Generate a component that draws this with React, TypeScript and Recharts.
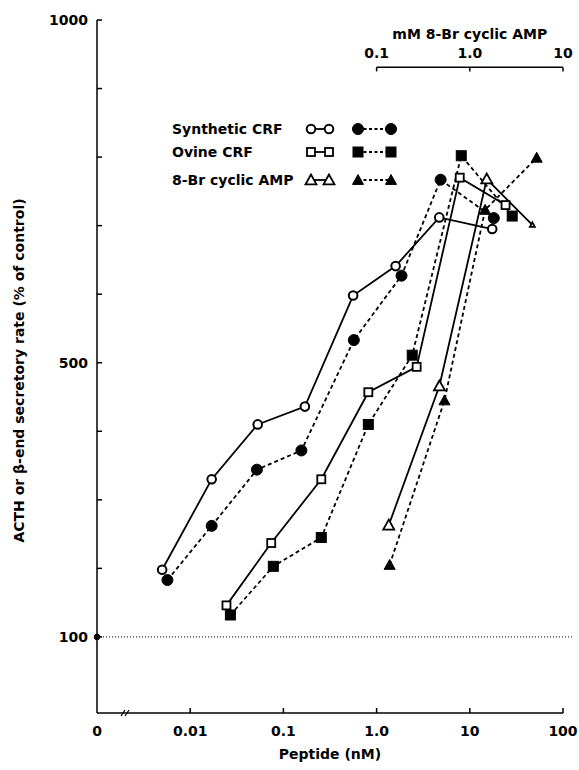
import React from 'react';
import { ComposedChart, Line, XAxis, YAxis, ReferenceLine, ReferenceDot, Legend } from 'recharts';

const FONT = 'DejaVu Sans';

// peptide concentration (nM) vs secretory rate (% of control)
const synthOpenX = [0.005, 0.017, 0.053, 0.17, 0.56, 1.6, 4.7, 17.4];
const synthOpenY = [198, 330, 410, 436, 598, 641, 712, 695];
const synthFilledX = [0.0057, 0.017, 0.052, 0.156, 0.57, 1.85, 4.86, 18.1];
const synthFilledY = [183, 262, 344, 372, 533, 627, 767, 711];

const ovineOpenX = [0.0245, 0.074, 0.255, 0.815, 2.69, 7.8, 24.2];
const ovineOpenY = [146, 237, 330, 457, 494, 770, 730];
const ovineFilledX = [0.027, 0.078, 0.255, 0.815, 2.41, 8.1, 28.5];
const ovineFilledY = [132, 203, 245, 410, 511, 802, 714];

// 8-Br cyclic AMP, in mM (top axis)
const campOpenX = [0.135, 0.472, 1.52, 4.69];
const campOpenY = [263, 466, 768, 701];
const campFilledX = [0.138, 0.535, 1.46, 5.22];
const campFilledY = [205, 445, 723, 799];

const xTicks = [0.001, 0.0021, 0.01, 0.1, 1, 10, 100];
const xTickLabels: Record<string, string> = { '0.001': '0', '0.01': '0.01', '0.1': '0.1', '1': '1.0', '10': '10', '100': '100' };
const BREAK = 0.0021;
const yTicks = [100, 200, 300, 400, 500, 600, 700, 800, 900, 1000];
const yTickLabels = [100, 500, 1000];
const topTicks = [0.1, 1, 10];
const topTickLabels = ['0.1', '1.0', '10'];
const TOP_AXIS_Y = 931;

const legendNames = ['Synthetic CRF', 'Ovine CRF', '8-Br cyclic AMP'];
const legendShapes = ['circle', 'square', 'triangle'];

const pts = (xs: number[], ys: number[]) => xs.map((x, i) => ({ x, y: ys[i] }));

function Marker({ shape, filled, cx, cy, scale = 1 }: any) {
  const fill = filled ? '#000' : '#fff';
  if (shape === 'circle') {
    return <circle cx={cx} cy={cy} r={(filled ? 5.5 : 4.3) * scale} fill={fill} stroke="#000" strokeWidth={filled ? 1 : 2} />;
  }
  if (shape === 'square') {
    const h = (filled ? 5 : 4) * scale;
    return <rect x={cx - h} y={cy - h} width={2 * h} height={2 * h} fill={fill} stroke="#000" strokeWidth={filled ? 1 : 1.8} />;
  }
  const h = 5.5 * scale;
  return (
    <polygon
      points={`${cx},${cy - h} ${cx - h},${cy + h * 0.8} ${cx + h},${cy + h * 0.8}`}
      fill={fill}
      stroke="#000"
      strokeWidth={filled ? 1 : 1.8}
      strokeLinejoin="miter"
    />
  );
}

const dotFor = (shape: string, filled: boolean, scales?: number[]) => (p: any) => {
  if (p.cx == null || p.cy == null) return <g key={`e-${p.index}`} />;
  return (
    <g key={`d-${shape}-${filled}-${p.index}`}>
      <Marker shape={shape} filled={filled} cx={p.cx} cy={p.cy} scale={scales ? scales[p.index] : 1} />
    </g>
  );
};

const XTick = (props: any) => {
  const { x, y, payload } = props;
  const v = payload.value;
  if (v === BREAK) {
    return (
      <g stroke="#000" strokeWidth={1.3}>
        <line x1={x - 6} y1={y + 3} x2={x - 2} y2={y - 3} />
        <line x1={x - 2} y1={y + 3} x2={x + 2} y2={y - 3} />
      </g>
    );
  }
  const label = xTickLabels[String(v)];
  return (
    <g>
      {v !== 0.001 && <line x1={x} y1={y} x2={x} y2={y - 5} stroke="#000" strokeWidth={1.5} />}
      <text x={x} y={y + 23} textAnchor="middle" fontFamily={FONT} fontWeight="bold" fontSize={14} fill="#000">
        {label}
      </text>
    </g>
  );
};

const YTick = (props: any) => {
  const { x, y, payload } = props;
  const v = payload.value;
  return (
    <g>
      <line x1={x} y1={y} x2={x + 5} y2={y} stroke="#000" strokeWidth={1.5} />
      {yTickLabels.includes(v) && (
        <text x={x - 9} y={y + 5} textAnchor="end" fontFamily={FONT} fontWeight="bold" fontSize={14} fill="#000">
          {v}
        </text>
      )}
    </g>
  );
};

const YLabel = (props: any) => {
  const vb = props.viewBox;
  const cx = vb.x + 19;
  const cy = vb.y + vb.height / 2 + 4;
  return (
    <text x={cx} y={cy} transform={`rotate(-90 ${cx} ${cy})`} textAnchor="middle" dominantBaseline="central" fontFamily={FONT} fontWeight="bold" fontSize={14} fill="#000">
      ACTH or β-end  secretory rate (% of control)
    </text>
  );
};

const XLabel = (props: any) => {
  const vb = props.viewBox;
  return (
    <text x={vb.x + vb.width / 2} y={vb.y + 46} textAnchor="middle" fontFamily={FONT} fontWeight="bold" fontSize={14} fill="#000">
      Peptide (nM)
    </text>
  );
};

const LegendBox = () => {
  const rowY = [17, 40, 68];
  return (
    <svg width={250} height={80} style={{ display: 'block', overflow: 'visible' }}>
      {legendNames.map((name, i) => {
        const cy = rowY[i];
        const s = legendShapes[i];
        return (
          <g key={name}>
            <text x={7} y={cy + 5} fontFamily={FONT} fontWeight="bold" fontSize={14} fill="#000">
              {name}
            </text>
            <line x1={146} y1={cy} x2={164} y2={cy} stroke="#000" strokeWidth={1.8} />
            <Marker shape={s} filled={false} cx={146} cy={cy} />
            <Marker shape={s} filled={false} cx={164} cy={cy} />
            <line x1={193} y1={cy} x2={226} y2={cy} stroke="#000" strokeWidth={1.8} strokeDasharray="3 2.5" />
            <Marker shape={s} filled cx={193} cy={cy} />
            <Marker shape={s} filled cx={226} cy={cy} />
          </g>
        );
      })}
    </svg>
  );
};

const lineProps = { dataKey: 'y', stroke: '#000', strokeWidth: 1.8, activeDot: false, isAnimationActive: false, type: 'linear' as const };
const DASH = '4 3';

export default function App() {
  return (
    <div style={{ position: 'absolute', left: 0, top: 0, background: '#fff' }}>
      <ComposedChart width={579} height={770} margin={{ top: 20, right: 16, left: 0, bottom: 0 }} style={{ fontFamily: FONT }}>
        <XAxis
          xAxisId="nM"
          type="number"
          dataKey="x"
          scale="log"
          domain={[0.001, 100]}
          allowDataOverflow
          ticks={xTicks}
          interval={0}
          tick={<XTick />}
          tickLine={false}
          tickSize={0}
          tickMargin={0}
          axisLine={{ stroke: '#000', strokeWidth: 1.5 }}
          height={57}
          label={{ content: <XLabel /> }}
        />
        <XAxis
          xAxisId="mM"
          orientation="top"
          height={0}
          type="number"
          dataKey="x"
          scale="log"
          domain={[0.0001, 10]}
          allowDataOverflow
          hide
        />
        <YAxis
          type="number"
          domain={[-11, 1000]}
          allowDataOverflow
          ticks={yTicks}
          interval={0}
          tick={<YTick />}
          tickLine={false}
          tickSize={0}
          tickMargin={0}
          axisLine={{ stroke: '#000', strokeWidth: 1.5 }}
          width={97}
          label={{ content: <YLabel /> }}
        />

        <ReferenceLine
          xAxisId="nM"
          segment={[{ x: 0.001, y: 100 }, { x: 130, y: 100 }]}
          ifOverflow="visible"
          stroke="#000"
          strokeWidth={1}
          strokeDasharray="1 2"
        />
        <ReferenceDot xAxisId="nM" x={0.001} y={100} r={2.8} fill="#000" stroke="#000" ifOverflow="visible" />

        <ReferenceLine
          xAxisId="mM"
          segment={[{ x: 0.1, y: TOP_AXIS_Y }, { x: 10, y: TOP_AXIS_Y }]}
          stroke="#000"
          strokeWidth={1.5}
          label={{ value: 'mM 8-Br cyclic AMP', position: 'top', offset: 28, fill: '#000', fontSize: 14, fontWeight: 'bold', fontFamily: FONT }}
        />
        {topTicks.map((t, i) => (
          <ReferenceLine
            key={t}
            xAxisId="mM"
            segment={[{ x: t, y: TOP_AXIS_Y }, { x: t, y: TOP_AXIS_Y - 6 }]}
            stroke="#000"
            strokeWidth={1.5}
            label={{ value: topTickLabels[i], position: 'top', offset: 9, fill: '#000', fontSize: 14, fontWeight: 'bold', fontFamily: FONT }}
          />
        ))}

        <Line {...lineProps} xAxisId="nM" name="Synthetic CRF" data={pts(synthOpenX, synthOpenY)} dot={dotFor('circle', false)} />
        <Line {...lineProps} xAxisId="nM" name="Synthetic CRF (filled)" data={pts(synthFilledX, synthFilledY)} strokeDasharray={DASH} dot={dotFor('circle', true)} />
        <Line {...lineProps} xAxisId="nM" name="Ovine CRF" data={pts(ovineOpenX, ovineOpenY)} dot={dotFor('square', false)} />
        <Line {...lineProps} xAxisId="nM" name="Ovine CRF (filled)" data={pts(ovineFilledX, ovineFilledY)} strokeDasharray={DASH} dot={dotFor('square', true)} />
        <Line {...lineProps} xAxisId="mM" name="8-Br cyclic AMP" data={pts(campOpenX, campOpenY)} dot={dotFor('triangle', false, [1, 1, 1, 0.45])} />
        <Line {...lineProps} xAxisId="mM" name="8-Br cyclic AMP (filled)" data={pts(campFilledX, campFilledY)} strokeDasharray={DASH} dot={dotFor('triangle', true)} />

        <Legend
          layout="horizontal"
          verticalAlign="middle"
          align="center"
          content={<LegendBox />}
          wrapperStyle={{ position: 'absolute', top: 112, left: 165, width: 250, height: 80 }}
        />
      </ComposedChart>
    </div>
  );
}
